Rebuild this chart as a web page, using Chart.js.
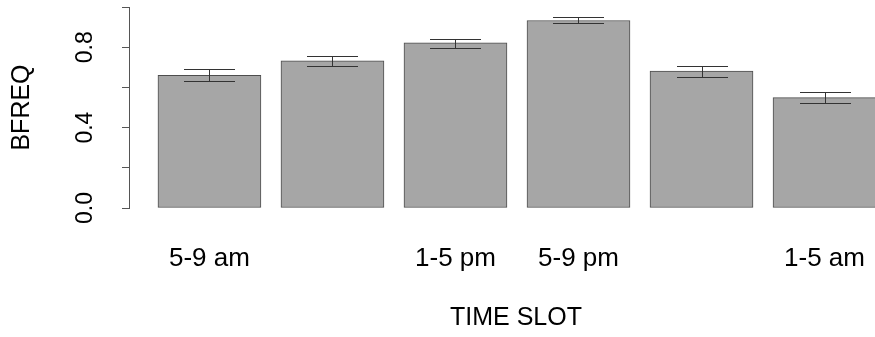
<!DOCTYPE html>
<html>
<head>
<meta charset="utf-8">
<script src="https://cdn.jsdelivr.net/npm/chart.js@4.4.1/dist/chart.umd.min.js"></script>
<style>
  html, body { margin: 0; padding: 0; background: #fff; overflow: hidden; }
  #wrap { width: 875px; height: 337px; overflow: hidden; }
  canvas { display: block; }
</style>
</head>
<body>
<div id="wrap"><canvas id="slotChart" width="903" height="337"></canvas></div>
<script>
// values
const slots = ['5-9 am', '', '1-5 pm', '5-9 pm', '', '1-5 am'];
const bfreq = [0.660, 0.732, 0.822, 0.933, 0.681, 0.549];
const errHi = [0.690, 0.757, 0.843, 0.950, 0.708, 0.578];
const errLo = [0.634, 0.707, 0.798, 0.918, 0.653, 0.523];
const yTicks = ['0.0', '', '0.4', '', '0.8', ''];

const FONT = '"Liberation Sans", Arial, Helvetica, sans-serif';

// error bars drawn over the bars
const errorBars = {
  id: 'errorBars',
  afterDatasetsDraw(chart) {
    const ctx = chart.ctx;
    const x = chart.scales.x, y = chart.scales.y;
    ctx.save();
    ctx.strokeStyle = '#333';
    ctx.lineWidth = 1;
    bfreq.forEach((v, i) => {
      const px = Math.round(x.getPixelForValue(i)) + 0.5;
      const top = Math.round(y.getPixelForValue(errHi[i])) + 0.5;
      const bot = Math.round(y.getPixelForValue(errLo[i])) + 0.5;
      ctx.beginPath();
      ctx.moveTo(px, top); ctx.lineTo(px, bot);
      ctx.moveTo(px - 25.5, top); ctx.lineTo(px + 25.5, top);
      ctx.moveTo(px - 25.5, bot); ctx.lineTo(px + 25.5, bot);
      ctx.stroke();
    });
    ctx.restore();
  }
};

// keep the plot area fixed: no extra room for overhanging labels
function noPad(scale) {
  scale.paddingTop = 0;
  scale.paddingBottom = 0;
  scale.paddingLeft = 0;
  scale.paddingRight = 0;
}

const ctx = document.getElementById('slotChart').getContext('2d');
new Chart(ctx, {
  type: 'bar',
  data: {
    datasets: [{
      data: bfreq.map((v, i) => ({ x: i, y: v })),
      backgroundColor: '#a6a6a6',
      borderColor: '#4d4d4d',
      borderWidth: 1,
      borderSkipped: false,
      barThickness: 103
    }]
  },
  options: {
    responsive: false,
    animation: false,
    layout: { padding: { top: 7, right: 0, bottom: 0, left: 0 } },
    plugins: { legend: { display: false }, tooltip: { enabled: false } },
    scales: {
      x: {
        type: 'linear',
        offset: false,
        min: -0.654,
        max: 5.638,
        afterFit(scale) { scale.height = 129; noPad(scale); },
        grid: { display: false, drawTicks: false, offset: false },
        border: { display: false },
        ticks: {
          stepSize: 1,
          includeBounds: false,
          autoSkip: false,
          maxRotation: 0,
          padding: 35,
          color: '#000',
          font: { family: FONT, size: 26 },
          callback: (v) => Number.isInteger(v) ? (slots[v] || '') : ''
        },
        title: {
          display: true,
          text: 'TIME SLOT',
          color: '#000',
          font: { family: FONT, size: 25 },
          padding: { top: 0, bottom: 4 }
        }
      },
      y: {
        min: 0,
        max: 1.0,
        afterFit(scale) { scale.width = 129; noPad(scale); },
        grid: { drawOnChartArea: false, drawTicks: true, tickLength: 7, color: '#555' },
        border: { display: true, color: '#555' },
        ticks: {
          stepSize: 0.2,
          minRotation: 90,
          maxRotation: 90,
          crossAlign: 'center',
          padding: 20,
          color: '#000',
          font: { family: FONT, size: 23 },
          callback: (v, i) => yTicks[i]
        },
        title: {
          display: true,
          text: 'BFREQ',
          color: '#000',
          font: { family: FONT, size: 25 },
          padding: { top: 7, bottom: 0 }
        }
      }
    }
  },
  plugins: [errorBars]
});
</script>
</body>
</html>
